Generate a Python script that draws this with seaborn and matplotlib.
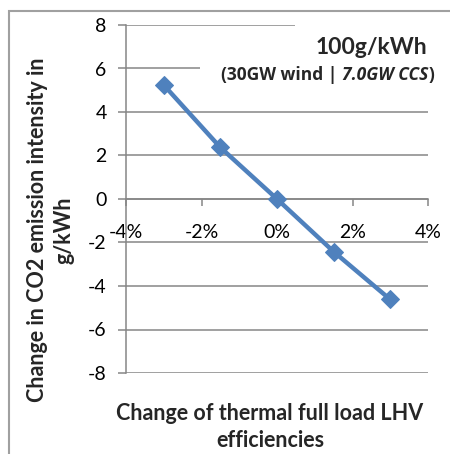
import numpy as np
import matplotlib
matplotlib.use("Agg")
import matplotlib.pyplot as plt
import pandas as pd
import seaborn as sns
from matplotlib.patches import Rectangle
from matplotlib.ticker import PercentFormatter

# data
efficiency_change = [-0.03, -0.015, 0.0, 0.015, 0.03]
co2_change = [5.24, 2.37, 0.0, -2.42, -4.62]
y_ticks = [-8, -6, -4, -2, 0, 2, 4, 6, 8]
x_ticks = [-0.04, -0.02, 0.0, 0.02, 0.04]

title = "100g/kWh"
sub_left = "(30GW wind | "
sub_italic = "7.0GW CCS"
sub_right = ")"
xlabel = "Change of thermal full load LHV\nefficiencies"
ylabel = "Change in CO2 emission intensity in\ng/kWh"

sns.set_style("white")
plt.rcParams['font.family'] = ['Lato', 'DejaVu Sans']
plt.rcParams['axes.unicode_minus'] = False

W, H = 450, 454
fig = plt.figure(figsize=(W / 100, H / 100), dpi=100)


def px(x, y):
    # pixel (from top-left) -> figure fraction
    return x / W, 1 - y / H


ax = fig.add_axes([126 / W, 1 - 373 / H, (428 - 126) / W, (373 - 25) / H])

df = pd.DataFrame({'eff': efficiency_change, 'co2': co2_change})
blue = '#4F81BD'
grey = '#868686'

sns.lineplot(data=df, x='eff', y='co2', ax=ax, color=blue, linewidth=3.2,
             marker='D', markersize=9, markeredgecolor=blue, zorder=5)

ax.set_xlim(-0.04, 0.04)
ax.set_ylim(-8, 8)
ax.set_yticks(y_ticks)
ax.set_xticks(x_ticks)
ax.xaxis.set_major_formatter(PercentFormatter(1.0, decimals=0))
ax.set_xlabel('')
ax.set_ylabel('')

ax.yaxis.grid(True, color=grey, linewidth=1.1)
ax.set_axisbelow(True)
for s in ['top', 'right']:
    ax.spines[s].set_visible(False)
ax.spines['left'].set_color(grey)
ax.spines['left'].set_linewidth(1.1)
ax.spines['bottom'].set_position(('data', 0))
ax.spines['bottom'].set_color(grey)
ax.spines['bottom'].set_linewidth(1.1)

ax.tick_params(axis='y', direction='out', length=6, width=1.1, color=grey,
               left=True, pad=8, labelsize=14, labelcolor='black')
ax.tick_params(axis='x', direction='out', length=5, width=1.1, color=grey,
               bottom=True, pad=13, labelsize=14, labelcolor='black')

# white boxes behind the title text (hide the gridlines like the original)
fig.patches.append(Rectangle(px(295, 62), (440 - 295) / W, 40 / H,
                             transform=fig.transFigure, facecolor='white',
                             edgecolor='none', zorder=2))
fig.patches.append(Rectangle(px(200, 90), (440 - 200) / W, 28 / H,
                             transform=fig.transFigure, facecolor='white',
                             edgecolor='none', zorder=2))

# outer chart frame
fig.patches.append(Rectangle(px(9, 470), 460 / W, 459 / H,
                             transform=fig.transFigure, facecolor='none',
                             edgecolor='#A0A0A0', linewidth=1.5, zorder=1))

fig.text(*px(427, 47), title, ha='right', va='center', fontsize=16.5,
         fontweight='bold', zorder=10)

# subtitle with italic part, assembled right to left
sub_font = ['Open Sans', 'DejaVu Sans']
sub_size = 12.5
fig.canvas.draw()
r = fig.canvas.get_renderer()
t3 = fig.text(*px(434, 75), sub_right, ha='right', va='center',
              fontsize=sub_size, fontweight='bold', family=sub_font, zorder=10)
w3 = t3.get_window_extent(r).width
t2 = fig.text(*px(434 - w3, 75), sub_italic, ha='right', va='center',
              fontsize=sub_size, fontweight='bold', fontstyle='italic',
              family=sub_font, zorder=10)
w2 = t2.get_window_extent(r).width
fig.text(*px(434 - w3 - w2, 75), sub_left, ha='right', va='center',
         fontsize=sub_size, fontweight='bold', family=sub_font, zorder=10)

fig.text(*px(270, 427), xlabel, ha='center', va='center', fontsize=15.5,
         fontweight='bold', linespacing=1.3)
fig.text(*px(51, 230), ylabel, ha='center', va='center', fontsize=15.5,
         fontweight='bold', rotation=90, linespacing=1.3)

fig.savefig('out.png', dpi=100)
